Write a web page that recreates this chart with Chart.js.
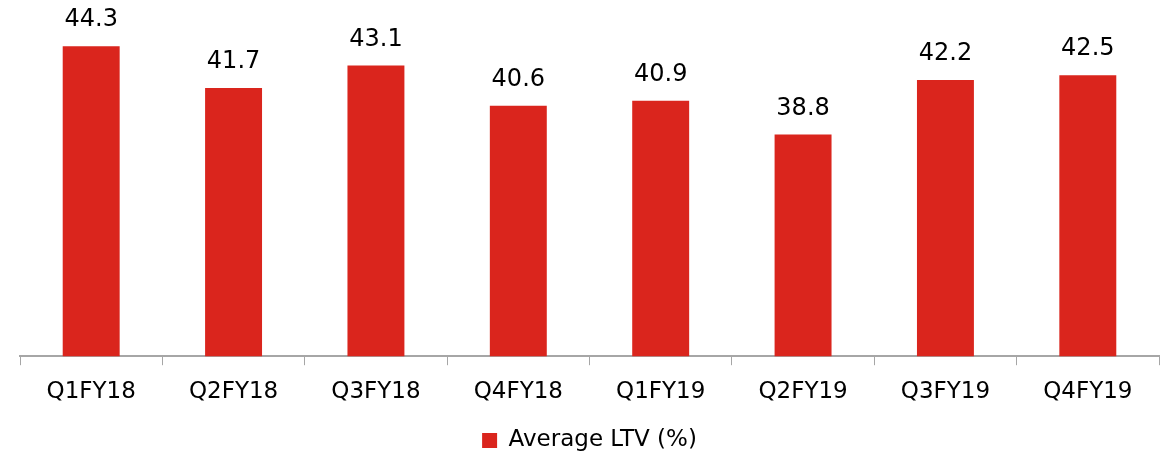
<!DOCTYPE html>
<html>
<head>
<meta charset="utf-8">
<script src="https://cdn.jsdelivr.net/npm/chart.js@4"></script>
<style>
  html, body { margin: 0; padding: 0; background: #fff; }
  #wrap { width: 1171px; height: 462px; }
</style>
</head>
<body>
<div id="wrap"><canvas id="myChart"></canvas></div>
<script>
const quarters = ['Q1FY18', 'Q2FY18', 'Q3FY18', 'Q4FY18', 'Q1FY19', 'Q2FY19', 'Q3FY19', 'Q4FY19'];
const avgLtv = [44.3, 41.7, 43.1, 40.6, 40.9, 38.8, 42.2, 42.5];

// value labels above the bars
const barLabels = {
    id: 'barLabels',
    afterDatasetsDraw(chart) {
        const c = chart.ctx;
        const meta = chart.getDatasetMeta(0);
        c.save();
        c.fillStyle = '#000';
        c.font = '24px "DejaVu Sans"';
        c.textAlign = 'center';
        c.textBaseline = 'bottom';
        meta.data.forEach((bar, i) => {
            c.fillText(chart.data.datasets[0].data[i].toFixed(1), bar.x, bar.y - 14);
        });
        c.restore();
    }
};

const ctx = document.getElementById('myChart');

new Chart(ctx, {
    type: 'bar',
    data: {
        labels: quarters,
        datasets: [{
            label: 'Average LTV (%)',
            data: avgLtv,
            backgroundColor: '#DA251D',
            barPercentage: 0.4,
            categoryPercentage: 1
        }]
    },
    options: {
        responsive: true,
        maintainAspectRatio: false,
        animation: false,
        layout: {
            padding: { left: 20, right: 12, top: 35, bottom: 0 }
        },
        plugins: {
            legend: {
                position: 'bottom',
                labels: {
                    boxWidth: 15,
                    boxHeight: 15,
                    color: '#000',
                    padding: 3,
                    font: { family: 'DejaVu Sans', size: 23 }
                }
            },
            tooltip: { enabled: false }
        },
        scales: {
            x: {
                grid: {
                    drawOnChartArea: false,
                    drawTicks: true,
                    tickLength: 9,
                    color: '#a6a6a6'
                },
                border: { color: '#a6a6a6', width: 2 },
                ticks: {
                    color: '#000',
                    padding: 13,
                    font: { family: 'DejaVu Sans', size: 23 }
                },
                title: {
                    display: true,
                    text: '',
                    font: { size: 6 },
                    padding: { top: 0, bottom: 0 }
                }
            },
            y: {
                display: false,
                min: 25,
                max: 45
            }
        }
    },
    plugins: [barLabels]
});
</script>
</body>
</html>
